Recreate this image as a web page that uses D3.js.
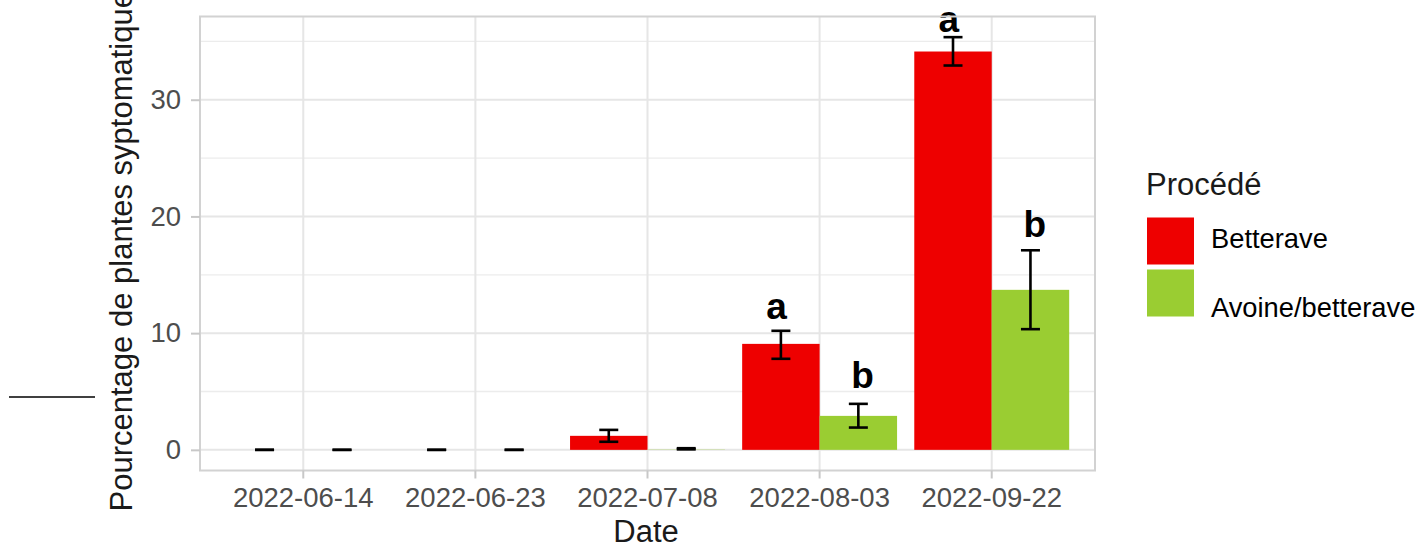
<!DOCTYPE html>
<html>
<head>
<meta charset="utf-8">
<script src="https://cdn.jsdelivr.net/npm/d3@7"></script>
<style>
  html, body { margin: 0; padding: 0; background: #ffffff; }
  svg { display: block; font-family: "Liberation Sans", Arial, sans-serif; }
</style>
</head>
<body>
<svg id="chart" width="1427" height="547"></svg>
<script>
// Sampling dates (x categories) and treatments (fill groups)
const dates = ["2022-06-14", "2022-06-23", "2022-07-08", "2022-08-03", "2022-09-22"];
const treatments = ["Betterave", "Avoine/betterave"];
const treatmentColors = ["#ee0000", "#9acd32"];

// Mean percentage of symptomatic plants, with error bar bounds
const betteraveMean = [0, 0, 1.2, 9.08, 34.13];
const betteraveLow  = [0, 0, 0.69, 7.8, 32.93];
const betteraveHigh = [0, 0, 1.71, 10.2, 35.36];
const avoineMean = [0, 0, 0.02, 2.91, 13.71];
const avoineLow  = [0, 0, 0.04, 1.91, 10.34];
const avoineHigh = [0, 0, 0.14, 3.94, 17.1];

// Significance letters and the height they sit at
const betteraveLetters = ["", "", "", "a", "a"];
const betteraveLetterY = [0, 0, 0, 11.2, 35.8];
const avoineLetters = ["", "", "", "b", "b"];
const avoineLetterY = [0, 0, 0, 5.29, 18.2];

// Axis ticks
const yMajorTicks = [0, 10, 20, 30];
const yMinorTicks = [5, 15, 25, 35];

const seriesData = [
  { name: treatments[0], color: treatmentColors[0], mean: betteraveMean, low: betteraveLow, high: betteraveHigh, letters: betteraveLetters, letterY: betteraveLetterY },
  { name: treatments[1], color: treatmentColors[1], mean: avoineMean, low: avoineLow, high: avoineHigh, letters: avoineLetters, letterY: avoineLetterY }
];

const svg = d3.select("#chart");
const panel = { left: 200, right: 1095, top: 16.5, bottom: 470.5 };

const x = d3.scaleBand()
  .domain(dates)
  .range([panel.left, panel.right])
  .paddingInner(0)
  .paddingOuter(0.1);
const step = x.step();

// dodged bars take 90% of each slot
const xDodge = d3.scaleBand()
  .domain(treatments)
  .range([0.05 * step, 0.95 * step]);
// letters are dodged over the full slot
const xLetter = d3.scaleBand()
  .domain(treatments)
  .range([0, step]);

const y = d3.scaleLinear()
  .domain([-1.77, 37.13])
  .range([panel.bottom, panel.top]);

// panel grid
const grid = svg.append("g");
grid.selectAll("line.minor").data(yMinorTicks).join("line")
  .attr("x1", panel.left).attr("x2", panel.right)
  .attr("y1", d => y(d)).attr("y2", d => y(d))
  .attr("stroke", "#ececec").attr("stroke-width", 1.3);
grid.selectAll("line.majory").data(yMajorTicks).join("line")
  .attr("x1", panel.left).attr("x2", panel.right)
  .attr("y1", d => y(d)).attr("y2", d => y(d))
  .attr("stroke", "#e6e6e6").attr("stroke-width", 2);
grid.selectAll("line.majorx").data(dates).join("line")
  .attr("x1", d => x(d) + step / 2).attr("x2", d => x(d) + step / 2)
  .attr("y1", panel.top).attr("y2", panel.bottom)
  .attr("stroke", "#e6e6e6").attr("stroke-width", 2);

// bars
const bars = svg.append("g");
seriesData.forEach(s => {
  bars.selectAll(null).data(dates).join("rect")
    .attr("x", d => x(d) + xDodge(s.name))
    .attr("width", xDodge.bandwidth())
    .attr("y", (d, i) => y(s.mean[i]))
    .attr("height", (d, i) => y(0) - y(s.mean[i]))
    .attr("fill", s.color);
});

// error bars
const err = svg.append("g").attr("stroke", "#000").attr("stroke-width", 2.6).attr("fill", "none");
const whisker = 9.5;
seriesData.forEach(s => {
  dates.forEach((d, i) => {
    const cx = x(d) + xDodge(s.name) + xDodge.bandwidth() / 2;
    const yl = y(s.low[i]), yh = y(s.high[i]);
    err.append("line").attr("x1", cx).attr("x2", cx).attr("y1", yl).attr("y2", yh);
    err.append("line").attr("x1", cx - whisker).attr("x2", cx + whisker).attr("y1", yl).attr("y2", yl);
    err.append("line").attr("x1", cx - whisker).attr("x2", cx + whisker).attr("y1", yh).attr("y2", yh);
  });
});

// significance letters
const letters = svg.append("g");
seriesData.forEach(s => {
  letters.selectAll(null).data(dates.filter((d, i) => s.letters[i] !== "")).join("text")
    .attr("x", d => x(d) + xLetter(s.name) + xLetter.bandwidth() / 2)
    .attr("y", d => y(s.letterY[dates.indexOf(d)]))
    .attr("text-anchor", "middle")
    .attr("font-size", 37)
    .attr("font-weight", "bold")
    .attr("fill", "#000")
    .text(d => s.letters[dates.indexOf(d)]);
});

// panel border
svg.append("rect")
  .attr("x", panel.left).attr("y", panel.top)
  .attr("width", panel.right - panel.left).attr("height", panel.bottom - panel.top)
  .attr("fill", "none").attr("stroke", "#d2d2d2").attr("stroke-width", 2);

// axes
const xAxis = svg.append("g")
  .attr("transform", `translate(0,${panel.bottom})`)
  .call(d3.axisBottom(x).tickSize(8).tickPadding(9));
const yAxis = svg.append("g")
  .attr("transform", `translate(${panel.left},0)`)
  .call(d3.axisLeft(y).tickValues(yMajorTicks).tickSize(9).tickPadding(10));
[xAxis, yAxis].forEach(a => {
  a.select(".domain").remove();
  a.selectAll(".tick line").attr("stroke", "#c8c8c8").attr("stroke-width", 2);
  a.selectAll(".tick text")
    .attr("fill", "#4d4d4d")
    .attr("font-size", 27.5)
    .attr("font-family", "Liberation Sans, Arial, sans-serif");
});
xAxis.selectAll(".tick text").attr("dy", "0.71em");

// axis titles
svg.append("text")
  .attr("x", 646).attr("y", 542)
  .attr("text-anchor", "middle")
  .attr("font-size", 31).attr("fill", "#1a1a1a")
  .text("Date");
svg.append("text")
  .attr("transform", `translate(132,${(panel.top + panel.bottom) / 2}) rotate(-90)`)
  .attr("text-anchor", "middle")
  .attr("font-size", 31).attr("fill", "#1a1a1a")
  .text("Pourcentage de plantes syptomatiques");

// legend
const legend = svg.append("g");
legend.append("text")
  .attr("x", 1146).attr("y", 195)
  .attr("font-size", 31).attr("fill", "#1a1a1a")
  .text("Procédé");
const keyTop = [217.5, 269.5];
const labelBase = [248, 317];
seriesData.forEach((s, i) => {
  legend.append("rect")
    .attr("x", 1147).attr("y", keyTop[i])
    .attr("width", 47).attr("height", 47)
    .attr("fill", s.color);
  legend.append("text")
    .attr("x", 1211).attr("y", labelBase[i])
    .attr("font-size", 27.3).attr("fill", "#000")
    .text(s.name);
});

// separator stroke at left margin
svg.append("line")
  .attr("x1", 9).attr("x2", 95).attr("y1", 397).attr("y2", 397)
  .attr("stroke", "#000").attr("stroke-width", 1.6);
</script>
</body>
</html>
